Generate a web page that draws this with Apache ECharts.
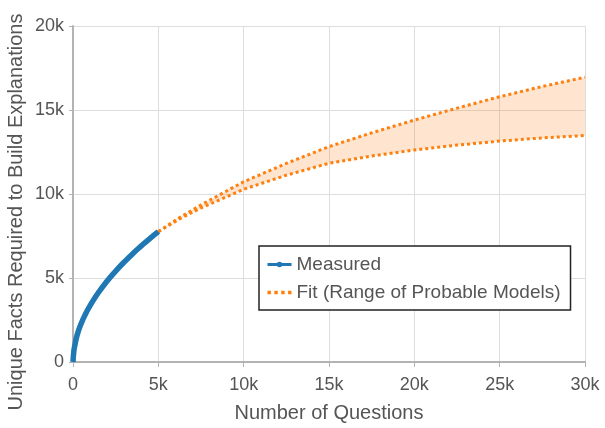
<!DOCTYPE html>
<html>
<head>
<meta charset="utf-8">
<script src="https://cdn.jsdelivr.net/npm/echarts@6/dist/echarts.min.js"></script>
<style>
html,body{margin:0;padding:0;background:#fff;}
#chart{width:605px;height:428px;}
</style>
</head>
<body>
<div id="chart"></div>
<script>
// Measured curve (questions, unique facts)
var measuredX = [0, 50, 100, 250, 500, 750, 1000, 1500, 2000, 2500, 3000, 3500, 4000, 4500, 5000];
var measuredY = [0, 650, 950, 1630, 2340, 2890, 3360, 4150, 4820, 5410, 5950, 6450, 6910, 7350, 7760];
// Fit range (lower and upper probable models)
var fitX = [5000, 6250, 7500, 10000, 12500, 15000, 17500, 20000, 22500, 25000, 27500, 30000];
var fitUpper = [7760, 8600, 9350, 10730, 11820, 12820, 13640, 14400, 15110, 15790, 16400, 16950];
var fitLower = [7760, 8520, 9170, 10280, 11120, 11830, 12260, 12620, 12910, 13150, 13340, 13480];
// Tick labels
var xTickLabels = ['0', '5k', '10k', '15k', '20k', '25k', '30k'];
var yTickLabels = ['0', '5k', '10k', '15k', '20k'];
var xInterval = 5000, yInterval = 5000;

var FONT = '"Liberation Sans", Arial, sans-serif';
var TXT = '#555555';
var ORANGE = '#ff7f0e';
var BLUE = '#1f77b4';
var fitName = 'Fit (Range of Probable Models)';

function pairs(xs, ys) { return xs.map(function (x, i) { return [x, ys[i]]; }); }

var chart = echarts.init(document.getElementById('chart'), null, {renderer: 'canvas'});
chart.setOption({
  animation: false,
  textStyle: {fontFamily: FONT},
  grid: {left: 73, right: 20, top: 26, bottom: 66},
  xAxis: {
    type: 'value', min: 0, max: 30000, interval: xInterval,
    name: 'Number of Questions', nameLocation: 'middle', nameGap: 41,
    nameTextStyle: {fontSize: 20, color: TXT, fontFamily: FONT},
    axisLine: {show: true, lineStyle: {color: '#b3b3b3', width: 2}},
    axisTick: {show: true, length: 5, lineStyle: {color: '#b3b3b3', width: 1}},
    axisLabel: {fontSize: 18, color: TXT, margin: 14, fontFamily: FONT,
      formatter: function (v) { return xTickLabels[Math.round(v / xInterval)]; }},
    splitLine: {show: true, lineStyle: {color: '#dddddd', width: 1}}
  },
  yAxis: {
    type: 'value', min: 0, max: 20000, interval: yInterval,
    axisLine: {show: true, lineStyle: {color: '#b3b3b3', width: 2}},
    axisTick: {show: true, length: 4, lineStyle: {color: '#b3b3b3', width: 1}},
    axisLabel: {fontSize: 18, color: TXT, margin: 9, fontFamily: FONT,
      formatter: function (v) { return yTickLabels[Math.round(v / yInterval)]; }},
    splitLine: {show: true, lineStyle: {color: '#dddddd', width: 1}}
  },
  graphic: [{
    type: 'text', x: 16, y: 212, rotation: Math.PI / 2,
    style: {text: 'Unique Facts Required to Build Explanations', fontSize: 20,
      fontFamily: FONT, fill: TXT, align: 'center', verticalAlign: 'middle'}
  }],
  legend: {
    orient: 'vertical', left: 259, top: 246,
    data: [
      {name: 'Measured', lineStyle: {width: 3}},
      {name: fitName, icon: 'path://M0,0h3v3h-3z M6,0h3v3h-3z M12,0h3v3h-3z M18,0h3v3h-3z',
        itemStyle: {color: ORANGE}}
    ],
    backgroundColor: '#ffffff', borderColor: '#222222', borderWidth: 1.5,
    padding: [9, 10, 8, 7], itemGap: 9, itemWidth: 24, itemHeight: 7,
    textStyle: {fontSize: 19, color: TXT, fontFamily: FONT},
    selectedMode: false
  },
  series: [
    {
      type: 'custom', name: 'band', silent: true, z: 1,
      data: [[fitX[0], fitLower[0]]],
      encode: {x: 0, y: 1},
      renderItem: function (params, api) {
        var pts = [];
        for (var i = 0; i < fitX.length; i++) pts.push(api.coord([fitX[i], fitUpper[i]]));
        for (var j = fitX.length - 1; j >= 0; j--) pts.push(api.coord([fitX[j], fitLower[j]]));
        return {type: 'polygon', shape: {points: pts}, style: {fill: 'rgba(255,127,14,0.2)'}};
      }
    },
    {
      name: fitName, type: 'line', data: pairs(fitX, fitLower),
      showSymbol: false, symbol: 'none',
      lineStyle: {color: ORANGE, width: 3, type: 'dotted'},
      itemStyle: {color: ORANGE}, z: 2
    },
    {
      name: fitName, type: 'line', data: pairs(fitX, fitUpper),
      showSymbol: false, symbol: 'none',
      lineStyle: {color: ORANGE, width: 3, type: 'dotted'},
      itemStyle: {color: ORANGE}, z: 2
    },
    {
      name: 'Measured', type: 'line', data: pairs(measuredX, measuredY),
      smooth: true, symbol: 'circle', symbolSize: 5, showSymbol: false,
      lineStyle: {color: BLUE, width: 5.5},
      itemStyle: {color: BLUE}, z: 3
    }
  ]
});
</script>
</body>
</html>
